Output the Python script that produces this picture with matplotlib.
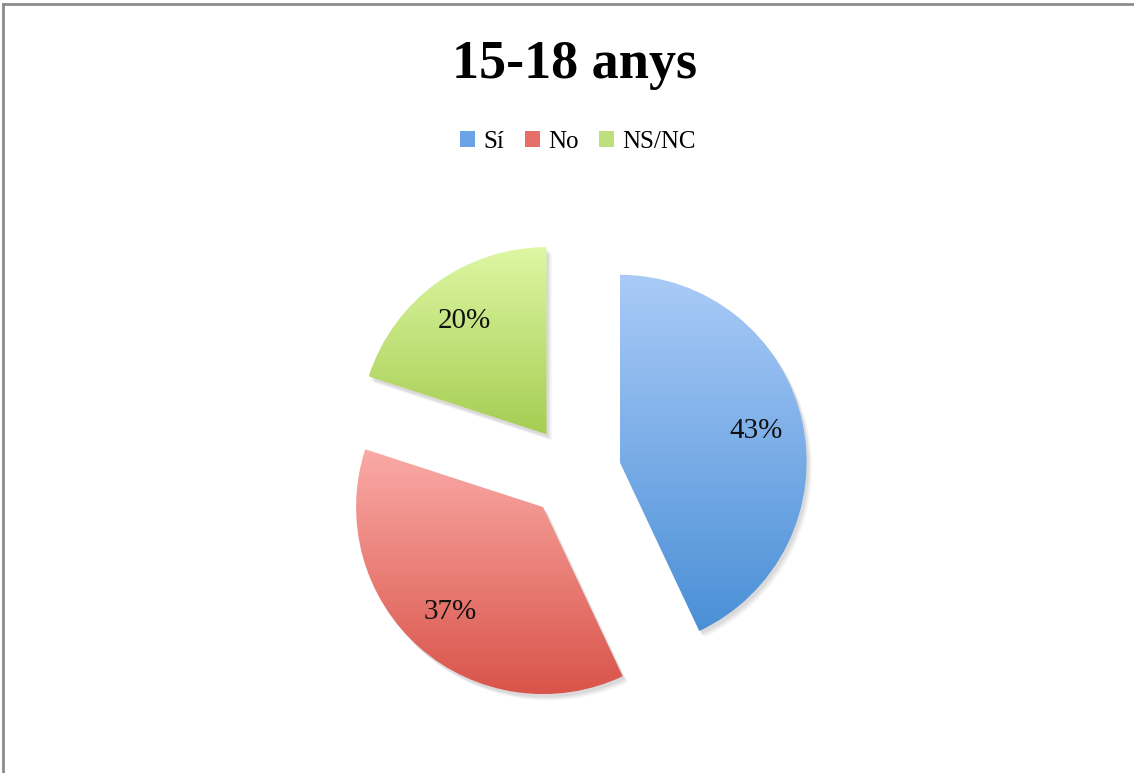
import numpy as np
import matplotlib
matplotlib.use("Agg")
import matplotlib.pyplot as plt
from matplotlib.patches import Patch, Wedge
from matplotlib.colors import LinearSegmentedColormap
from matplotlib.lines import Line2D

# Chart data
title = "15-18 anys"
categories = ["Sí", "No", "NS/NC"]
values = [43, 37, 20]

# (top colour, bottom colour) of each slice's vertical gradient
gradients = [
    ("#aacbf8", "#4a8fd6"),
    ("#faaaa6", "#d9544a"),
    ("#ddf7a3", "#a6cd53"),
]
legend_colors = ["#6aa3e6", "#e66f69", "#bde07c"]

W, H = 1134, 773
plt.rcParams["font.family"] = ["Liberation Serif", "DejaVu Serif"]

fig = plt.figure(figsize=(W / 100, H / 100), dpi=100)
ax = fig.add_axes([0, 0, 1, 1])

# pie centre and radius in pixels, axes limits in units of radius
cx, cy, r = 574, H - 472, 187

wedges, texts, autotexts = ax.pie(
    values,
    explode=[0.25, 0.25, 0.25],
    startangle=90,
    counterclock=False,
    autopct="%1.0f%%",
    pctdistance=0.75,
    radius=1.0,
    textprops=dict(fontsize=21, color="#111111"),
)
ax.set_aspect("auto")
ax.axis("off")

for w, (top, bottom) in zip(wedges, gradients):
    w.set_facecolor("none")
    w.set_edgecolor("none")
    # soft shadow
    for k, a in enumerate([0.06, 0.05, 0.04]):
        sh = Wedge((w.center[0] + 0.012 + 0.008 * k, w.center[1] - 0.018 - 0.008 * k),
                   w.r, w.theta1, w.theta2, facecolor="#000000", alpha=a,
                   edgecolor="none", zorder=0)
        ax.add_patch(sh)
    ext = w.get_path().get_extents()
    cmap = LinearSegmentedColormap.from_list("g", [bottom, top])
    grad = np.linspace(0, 1, 256).reshape(-1, 1)
    im = ax.imshow(grad, cmap=cmap, origin="lower", aspect="auto",
                   extent=[ext.x0, ext.x1, ext.y0, ext.y1], zorder=1,
                   interpolation="bilinear")
    im.set_clip_path(w)

for t in autotexts:
    t.set_zorder(3)

ax.set_xlim(-cx / r, (W - cx) / r)
ax.set_ylim(-cy / r, (H - cy) / r)

fig.text(575 / W, 1 - 65 / H, title, ha="center", va="center",
         fontsize=39, fontweight="bold")

handles = [Patch(facecolor=c, edgecolor="none") for c in legend_colors]
fig.legend(handles, categories, loc="center", ncol=3,
           bbox_to_anchor=(578 / W, 1 - 142 / H), frameon=False,
           fontsize=18, handlelength=0.6, handleheight=0.6,
           handletextpad=0.35, columnspacing=0.8)

# outer frame (top and left edges visible)
fig.add_artist(Line2D([3 / W, 1], [1 - 4 / H, 1 - 4 / H], color="#8c8c8c", lw=2))
fig.add_artist(Line2D([3 / W, 3 / W], [0, 1 - 4 / H], color="#8c8c8c", lw=2))

fig.savefig("out.png", dpi=100, facecolor="white")
